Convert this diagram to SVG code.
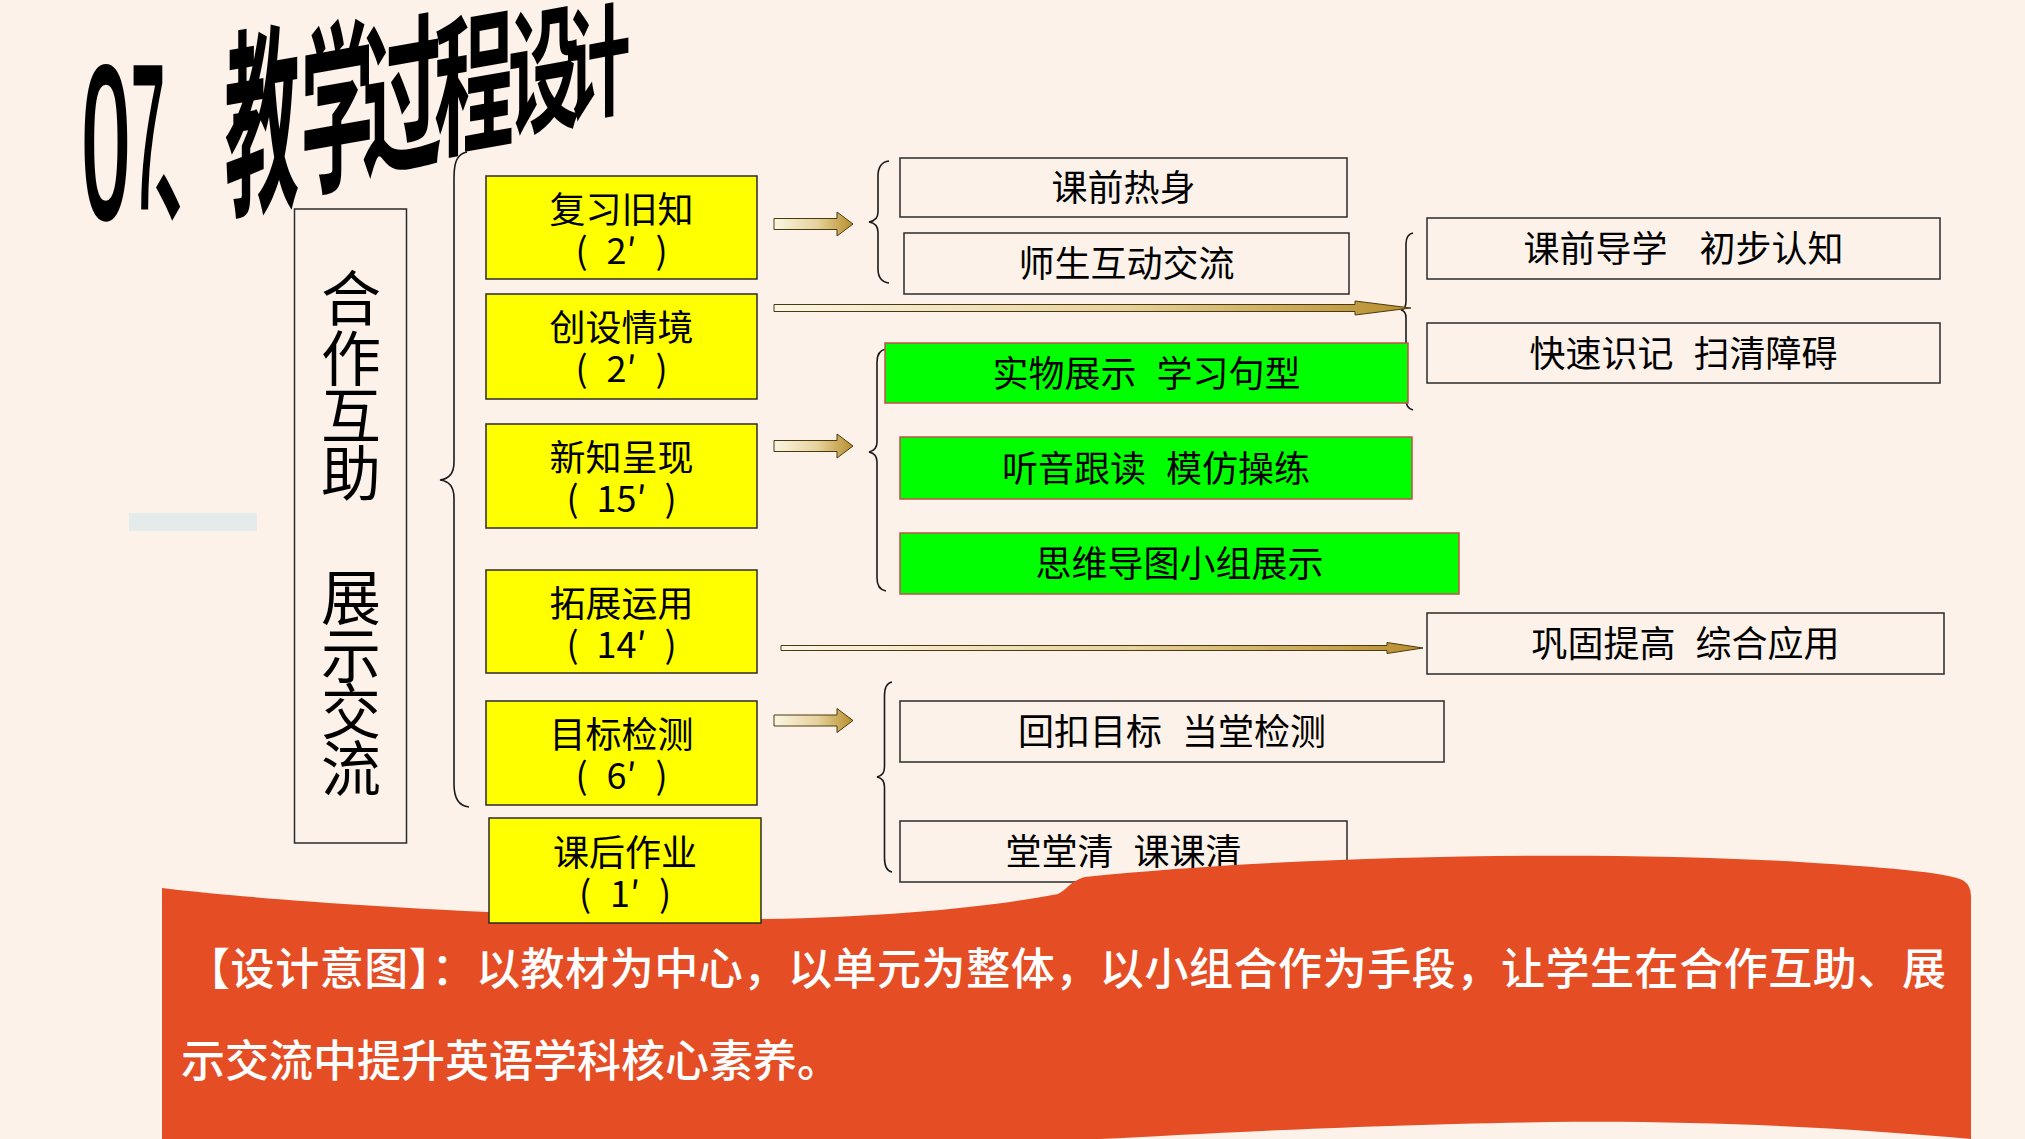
<svg xmlns="http://www.w3.org/2000/svg" width="2025" height="1139" viewBox="0 0 2025 1139">
<defs>
<linearGradient id="gold" x1="0" y1="0" x2="1" y2="0">
<stop offset="0" stop-color="#FBF5E4"/>
<stop offset="0.55" stop-color="#E6D29C"/>
<stop offset="1" stop-color="#B88E2C"/>
</linearGradient>
<style>
.yb{fill:#FFFF00;stroke:#2a2a2a;stroke-width:1.5}
.wb{fill:none;stroke:#2a2a2a;stroke-width:1.5}
.gb{fill:#00FF00;stroke:#C0504D;stroke-width:1.5}
.t{font-family:"Noto Sans CJK SC","Noto Sans",sans-serif;font-size:36px;fill:#000;text-anchor:middle}
.ws{word-spacing:12px}
.br{fill:none;stroke:#1a1a1a;stroke-width:1.6}
.arr{fill:url(#gold);stroke:#4a3a10;stroke-width:1}
.ttl{font-family:"Noto Sans CJK SC",sans-serif;font-weight:700;font-size:100px;fill:#000;text-anchor:middle}
.ttd{font-family:"Liberation Sans",sans-serif;font-size:100px;fill:#000;text-anchor:middle;stroke:#000;stroke-width:2.5}
.vt{font-family:"Noto Sans CJK SC",sans-serif;font-size:60px;fill:#000;text-anchor:middle}
.bn{font-family:"Noto Sans CJK SC",sans-serif;font-weight:500;font-size:44px;fill:#fff}
</style>
</defs>
<rect x="0" y="0" width="2025" height="1139" fill="#FDF2EA"/>

<g id="title">
<text class="ttd" transform="translate(106,217) scale(0.85,2.15)">0</text>
<text class="ttd" transform="translate(148,207) scale(0.6,2.03)">7</text>
<text class="ttl" style="text-anchor:start" transform="translate(153,210) scale(0.75,1.5)">、</text>
<text class="ttl" transform="translate(262,197) skewY(-10) scale(0.75,2.01)">教</text>
<text class="ttl" transform="translate(337,177) skewY(-10) scale(0.73,1.84)">学</text>
<text class="ttl" transform="translate(402,159.5) skewY(-10) scale(0.8,1.69)">过</text>
<text class="ttl" transform="translate(474,140) skewY(-10) scale(0.8,1.52)">程</text>
<text class="ttl" transform="translate(544,121.5) skewY(-10) scale(0.72,1.36)">设</text>
<text class="ttl" transform="translate(598,108) skewY(-10) scale(0.65,1.22)">计</text>
</g>

<rect id="pale-bar" x="129" y="513" width="128" height="18" fill="#E3ECEA"/>

<g id="node-main">
<rect class="wb" x="294.5" y="209" width="112" height="634"/>
<text class="vt"><tspan x="351" y="321">合</tspan><tspan x="351" y="381">作</tspan><tspan x="351" y="438">互</tspan><tspan x="351" y="496">助</tspan><tspan x="351" y="620">展</tspan><tspan x="351" y="678">示</tspan><tspan x="351" y="734">交</tspan><tspan x="351" y="791">流</tspan></text>
</g>

<g id="connectors">
<path class="br" d="M467,152 C457,154 454,162 454,178 L454,462 C454,473 449,479 440,480 C449,481 454,487 454,498 L454,784 C454,798 458,806 469,807"/>
<path class="br" d="M889,161 C881,162 878,168 878,176 L878,212 C878,218 875,221 869,222 C875,223 878,226 878,232 L878,269 C878,277 881,282 889,283"/>
<path class="br" d="M886,349 C880,350 877,355 877,362 L877,442 C877,448 874,451 869,452 C874,453 877,456 877,462 L877,578 C877,585 880,590 886,591"/>
<path class="br" d="M892,682 C886,683 884.5,688 884.5,696 L884.5,767 C884.5,773 882,776 877,777 C882,778 884.5,781 884.5,787 L884.5,858 C884.5,866 886,871 892,872"/>
<path class="br" d="M1413,233 C1408,234 1406,238 1406,244 L1406,301 C1406,306 1404,309.5 1401,310 C1404,310.5 1406,313 1406,318 L1406,399 C1406,405 1408,409 1413,410"/>
<path class="arr" d="M774,218.5 L837,218.5 L837,212 L853,224 L837,236 L837,229.5 L774,229.5 Z"/>
<path class="arr" d="M774,440.5 L837,440.5 L837,434 L853,446 L837,458 L837,451.5 L774,451.5 Z"/>
<path class="arr" d="M774,715 L837,715 L837,708.5 L853,720.5 L837,732.5 L837,726 L774,726 Z"/>
<path class="arr" d="M774,304.5 L1355,304.5 L1355,301 L1411,308 L1355,315 L1355,311.5 L774,311.5 Z"/>
<path class="arr" d="M781,645.5 L1387,645.5 L1387,642.5 L1423,648 L1387,653.5 L1387,650.5 L781,650.5 Z"/>
</g>

<g id="node-fuxi">
<rect class="yb" x="486" y="176" width="271" height="103"/>
<text class="t" x="621.5" y="222.5">复习旧知</text>
<text class="t" y="264"><tspan x="581.5">(</tspan><tspan x="621.5">2′</tspan><tspan x="661.5">)</tspan></text>
</g>
<g id="node-chuangshe">
<rect class="yb" x="486" y="294" width="271" height="105"/>
<text class="t" x="621.5" y="340.5">创设情境</text>
<text class="t" y="382"><tspan x="581.5">(</tspan><tspan x="621.5">2′</tspan><tspan x="661.5">)</tspan></text>
</g>
<g id="node-xinzhi">
<rect class="yb" x="486" y="424" width="271" height="104"/>
<text class="t" x="621.5" y="470.5">新知呈现</text>
<text class="t" y="512"><tspan x="572.5">(</tspan><tspan x="621.5">15′</tspan><tspan x="670.5">)</tspan></text>
</g>
<g id="node-tuozhan">
<rect class="yb" x="486" y="570" width="271" height="103"/>
<text class="t" x="621.5" y="616.5">拓展运用</text>
<text class="t" y="658"><tspan x="572.5">(</tspan><tspan x="621.5">14′</tspan><tspan x="670.5">)</tspan></text>
</g>
<g id="node-mubiao">
<rect class="yb" x="486" y="701" width="271" height="104"/>
<text class="t" x="621.5" y="747.5">目标检测</text>
<text class="t" y="789"><tspan x="581.5">(</tspan><tspan x="621.5">6′</tspan><tspan x="661.5">)</tspan></text>
</g>

<g id="node-keqian-reshen">
<rect class="wb" x="900" y="158" width="447" height="59"/>
<text class="t" x="1123.5" y="201">课前热身</text>
</g>
<g id="node-shisheng">
<rect class="wb" x="904" y="233" width="445" height="61"/>
<text class="t" x="1126.5" y="277">师生互动交流</text>
</g>
<g id="node-shiwu">
<rect class="gb" x="885" y="343" width="523" height="60"/>
<text class="t ws" x="1146.5" y="387">实物展示 学习句型</text>
</g>
<g id="node-tingyin">
<rect class="gb" x="900" y="437" width="512" height="62"/>
<text class="t ws" x="1156" y="482">听音跟读 模仿操练</text>
</g>
<g id="node-siwei">
<rect class="gb" x="900" y="533" width="559" height="61"/>
<text class="t" x="1179.5" y="577">思维导图小组展示</text>
</g>
<g id="node-daoxue">
<rect class="wb" x="1427" y="218" width="513" height="61"/>
<text class="t" style="word-spacing:24px" x="1683.5" y="262">课前导学 初步认知</text>
</g>
<g id="node-kuaisu">
<rect class="wb" x="1427" y="323" width="513" height="60"/>
<text class="t ws" x="1683.5" y="367">快速识记 扫清障碍</text>
</g>
<g id="node-gonggu">
<rect class="wb" x="1427" y="613" width="517" height="61"/>
<text class="t ws" x="1685.5" y="657">巩固提高 综合应用</text>
</g>
<g id="node-houkou">
<rect class="wb" x="900" y="701" width="544" height="61"/>
<text class="t ws" x="1172" y="745">回扣目标 当堂检测</text>
</g>
<g id="node-tangtang">
<rect class="wb" x="900" y="821" width="447" height="61"/>
<text class="t ws" x="1123.5" y="865">堂堂清 课课清</text>
</g>

<g id="banner">
<path fill="#E54D25" d="M162,888 C300,905 600,920 761,919 C900,917 1000,905 1058,894 C1068,889 1070,881 1085,877 C1300,855 1600,850 1800,862 C1900,868 1955,874 1964,881 Q1971,886 1971,896 L1971,1139 C1850,1128 1700,1120 1550,1122 C1350,1125 1200,1134 1100,1139 L162,1139 Z"/>
<text class="bn" x="186" y="985" textLength="1760" lengthAdjust="spacing">【设计意图】：以教材为中心，以单元为整体，以小组合作为手段，让学生在合作互助、展</text>
<text class="bn" x="181" y="1077">示交流中提升英语学科核心素养。</text>
</g>

<g id="node-kehou">
<rect class="yb" x="489" y="818" width="272" height="105"/>
<text class="t" x="625" y="866">课后作业</text>
<text class="t" y="907"><tspan x="585">(</tspan><tspan x="625">1′</tspan><tspan x="665">)</tspan></text>
</g>
</svg>
